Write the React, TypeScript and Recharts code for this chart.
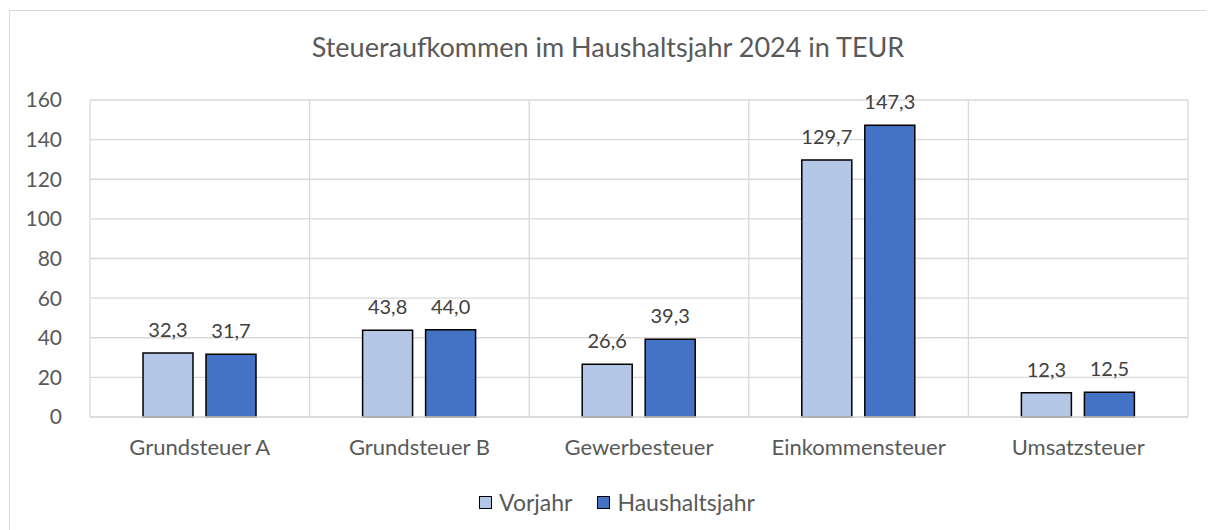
import { BarChart, Bar, XAxis, YAxis, CartesianGrid, LabelList } from "recharts";

const categories = ["Grundsteuer A", "Grundsteuer B", "Gewerbesteuer", "Einkommensteuer", "Umsatzsteuer"];
const vorjahr = [32.3, 43.8, 26.6, 129.7, 12.3];
const haushaltsjahr = [31.7, 44.0, 39.3, 147.3, 12.5];
const yTicks = [0, 20, 40, 60, 80, 100, 120, 140, 160];

const data = categories.map((name, i) => ({
  name,
  vorjahr: vorjahr[i],
  haushaltsjahr: haushaltsjahr[i],
}));

const fmt = (v: any) => Number(v).toFixed(1).replace(".", ",");
const font = "Lato, 'Open Sans', sans-serif";

export default function App() {
  return (
    <div
      style={{
        position: "relative",
        width: 1196,
        height: 519,
        marginLeft: 1,
        marginTop: 2,
        border: "1px solid #d9d9d9",
        fontFamily: font,
        background: "#fff",
      }}
    >
      <div
        style={{
          position: "absolute",
          top: 19,
          left: 0,
          width: "100%",
          textAlign: "center",
          fontSize: 27,
          color: "#595959",
        }}
      >
        Steueraufkommen im Haushaltsjahr 2024 in TEUR
      </div>
      <BarChart
        width={1196}
        height={519}
        data={data}
        margin={{ top: 89, right: 18, left: 0, bottom: 73 }}
        barCategoryGap={53}
        barGap={13}
      >
        <CartesianGrid
          stroke="#d9d9d9"
          strokeWidth={1.3}
          verticalCoordinatesGenerator={({ offset }: any) =>
            [0, 1, 2, 3, 4, 5].map((i) => offset.left + (i * offset.width) / categories.length)
          }
        />
        <XAxis
          dataKey="name"
          axisLine={{ stroke: "#d9d9d9", strokeWidth: 1.3 }}
          tickLine={false}
          tickSize={0}
          tickMargin={22}
          height={40}
          tick={{ fill: "#595959", fontSize: 22, fontFamily: font }}
        />
        <YAxis
          domain={[0, 160]}
          ticks={yTicks}
          width={80}
          axisLine={false}
          tickLine={false}
          tickSize={0}
          tickMargin={28}
          tick={{ fill: "#595959", fontSize: 21, fontFamily: font }}
        />
        <Bar dataKey="vorjahr" fill="#b4c7e7" stroke="#000" strokeWidth={1.5} isAnimationActive={false}>
          <LabelList dataKey="vorjahr" position="top" offset={16} formatter={fmt} fill="#404040" fontSize={20} fontFamily={font} />
        </Bar>
        <Bar dataKey="haushaltsjahr" fill="#4472c4" stroke="#000" strokeWidth={1.5} isAnimationActive={false}>
          <LabelList dataKey="haushaltsjahr" position="top" offset={16} formatter={fmt} fill="#404040" fontSize={20} fontFamily={font} />
        </Bar>
      </BarChart>
      <div
        style={{
          position: "absolute",
          top: 477,
          left: 0,
          width: "100%",
          boxSizing: "border-box",
          paddingLeft: 18,
          display: "flex",
          justifyContent: "center",
          alignItems: "center",
          gap: 25,
          fontSize: 23,
          color: "#595959",
        }}
      >
        {[
          { label: "Vorjahr", color: "#b4c7e7" },
          { label: "Haushaltsjahr", color: "#4472c4" },
        ].map((item) => (
          <div key={item.label} style={{ display: "flex", alignItems: "center" }}>
            <span
              style={{
                display: "inline-block",
                width: 11,
                height: 11,
                background: item.color,
                border: "1.5px solid #000",
                marginRight: 7,
              }}
            />
            {item.label}
          </div>
        ))}
      </div>
    </div>
  );
}
